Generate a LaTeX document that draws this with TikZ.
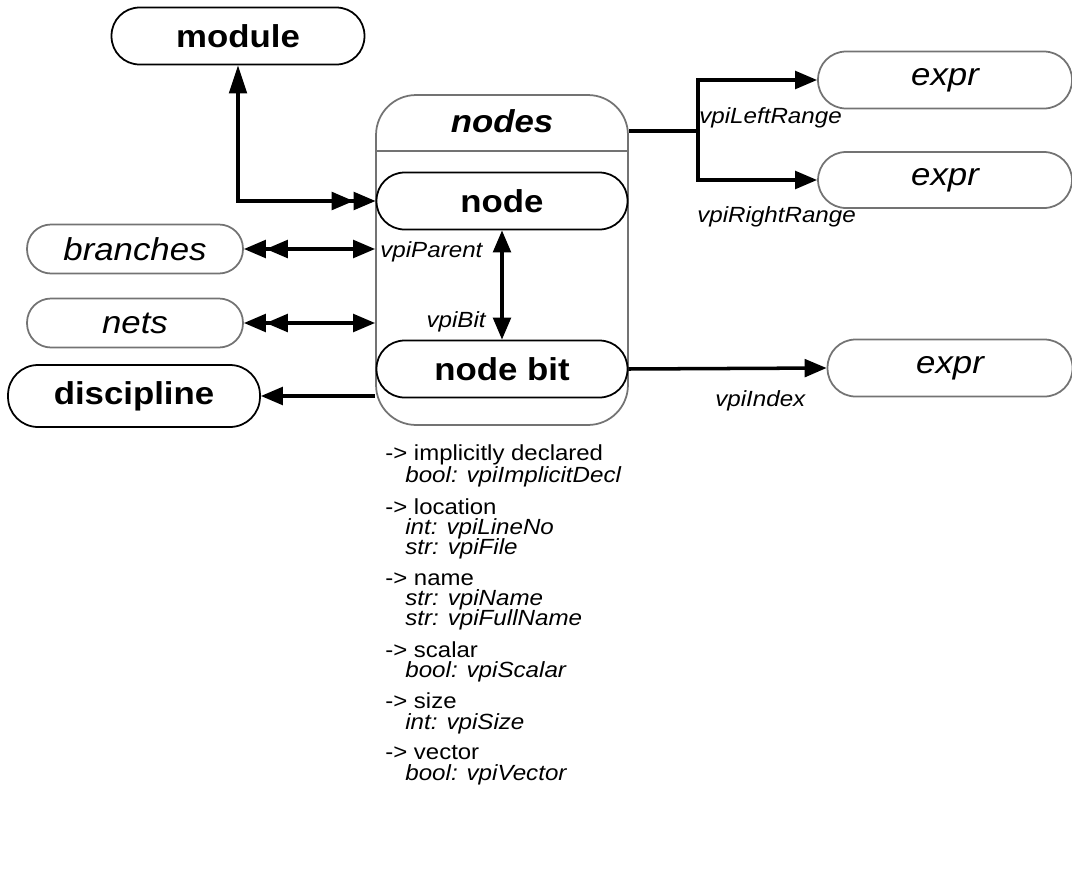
\documentclass[tikz,border=0pt]{standalone}
\usepackage{fontspec}
\setmainfont{Liberation Sans}[FakeStretch=1.1]
\usetikzlibrary{arrows.meta,positioning}
\newcommand{\diagbig}{\fontsize{18}{22}\selectfont}
\newcommand{\diaglist}{\fontsize{12.4}{15}\selectfont}
\newcommand{\diaglbl}{\fontsize{12.5}{15}\selectfont}

\begin{document}
\begin{tikzpicture}[x=0.02cm, y=-0.02cm, >={Triangle[length=12.5pt,width=10pt]},
    obj/.style={draw, line width=1pt, rounded corners=0.56cm, minimum height=1.14cm, inner sep=0pt, font=\diagbig\bfseries},
    cls/.style={draw=black!55, line width=1pt, rounded corners=0.48cm, minimum height=0.98cm, inner sep=0pt, font=\diagbig\itshape},
    link/.style={line width=2pt},
    lbl/.style={inner sep=0pt, font=\diaglbl\itshape},
    attr/.style={anchor=west, inner sep=0pt, font=\diaglist},
    sub/.style={anchor=west, inner sep=0pt, font=\diaglbl\itshape}]
      \useasboundingbox (0,0) rectangle (1072,886);

      % Nodes
      \node[draw=black!55, line width=1pt, rounded corners=0.8cm, minimum width=5.04cm, minimum height=6.6cm] (nodes) at (502,260) {};
      \draw[draw=black!55, line width=1pt] (nodes.west |- 0,151) -- (nodes.east |- 0,151);
      \node[font=\diagbig\bfseries\itshape] (title) at (502,121) {nodes};
      \node[obj, minimum width=5.02cm] (node) at (502,201) {node};
      \node[obj, minimum width=5.02cm] (nodebit) at (502,369) {node bit};
      \node[obj, minimum width=5.06cm] (module) at (238,36) {module};
      \node[obj, minimum width=5.04cm, minimum height=1.24cm, rounded corners=0.6cm] (discipline) at (134,396) {discipline};
      \node[cls, minimum width=4.32cm] (branches) at (135,249) {branches};
      \node[cls, minimum width=4.32cm] (nets) at (135,323) {nets};
      \node[cls, minimum width=5.08cm, minimum height=1.14cm, rounded corners=0.56cm] (expr1) at (945,80) {expr};
      \node[cls, minimum width=5.08cm, minimum height=1.12cm, rounded corners=0.56cm] (expr2) at (945,180) {expr};
      \node[cls, minimum width=4.9cm, minimum height=1.14cm, rounded corners=0.56cm] (expr3) at (950,368) {expr};

      % Arrows
      \draw[link, {Triangle[length=16pt,width=10pt]}->>] (module.south) |- (node.west);
      \draw[link, <<->] (branches.east) -- (branches -| nodes.west);
      \draw[link, <<->] (nets.east) -- (nets -| nodes.west);
      \draw[link, ->] (nodes.west |- discipline) -- (discipline.east);
      \draw[link, <->] (node) -- (nodebit);
      \coordinate (fork) at (698,131);
      \draw[link] (nodes.east |- fork) -- (fork);
      \draw[link, ->] (fork) |- (expr1.west);
      \draw[link, ->] (fork) |- (expr2.west);
      \draw[link, ->] (nodebit.east) -- (expr3.west);

      % Annotations
      \node[lbl, anchor=west] (parentlbl) at (380,252) {vpiParent};
      \node[lbl, anchor=east] (bitlbl) at (486,322) {vpiBit};
      \node[lbl, anchor=west] (leftlbl) at (699,118) {vpiLeftRange};
      \node[lbl, anchor=west] (rightlbl) at (697,217) {vpiRightRange};
      \node[lbl, anchor=west] (indexlbl) at (715,401) {vpiIndex};

      % Properties
      \node[attr] (p1) at (385,455) {-> implicitly declared};
      \node[sub] (p1a) at (405,477) {bool: vpiImplicitDecl};
      \node[attr] (p2) at (385,507) {-> location};
      \node[sub] (p2a) at (405,529) {int: vpiLineNo};
      \node[sub] (p2b) at (405,549) {str: vpiFile};
      \node[attr] (p3) at (385,579) {-> name};
      \node[sub] (p3a) at (405,600) {str: vpiName};
      \node[sub] (p3b) at (405,620) {str: vpiFullName};
      \node[attr] (p4) at (385,650) {-> scalar};
      \node[sub] (p4a) at (405,672) {bool: vpiScalar};
      \node[attr] (p5) at (385,701) {-> size};
      \node[sub] (p5a) at (405,724) {int: vpiSize};
      \node[attr] (p6) at (385,753) {-> vector};
      \node[sub] (p6a) at (405,775) {bool: vpiVector};
\end{tikzpicture}
\end{document}
